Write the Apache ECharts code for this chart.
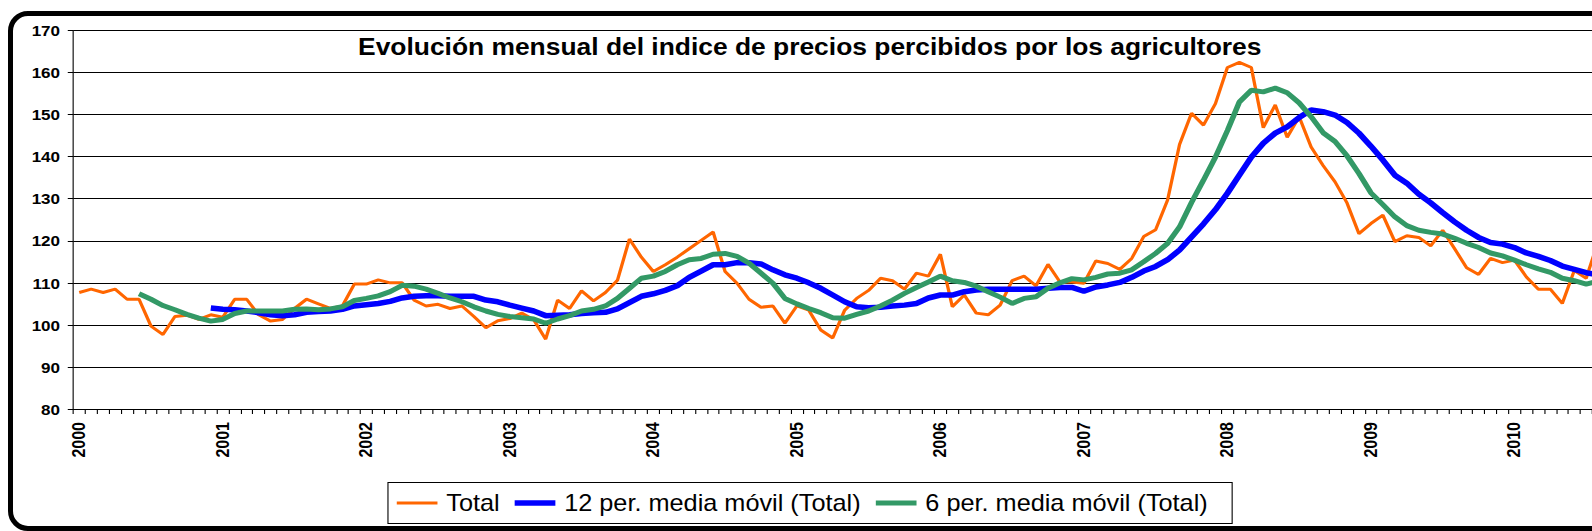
<!DOCTYPE html>
<html>
<head>
<meta charset="utf-8">
<script src="https://cdn.jsdelivr.net/npm/echarts@6/dist/echarts.min.js"></script>
<style>
  html, body { margin: 0; padding: 0; background: #fff; overflow: hidden; width: 1592px; height: 531px; }
  #frame {
    position: absolute; left: 8px; top: 11px; width: 1720px; height: 520px;
    border: 5px solid #000; border-radius: 20px; box-sizing: border-box;
  }
  /* the chart is drawn slightly condensed and stretched back horizontally */
  #chart {
    position: absolute; left: 0; top: 0; width: 1520px; height: 531px;
    transform: scaleX(1.1); transform-origin: 0 0;
  }
</style>
</head>
<body>
<div id="frame"></div>
<div id="chart"></div>
<script>
// Years shown on the category axis (one label every 12 months)
const years = ['2000', '2001', '2002', '2003', '2004', '2005', '2006', '2007', '2008', '2009', '2010'];

// Monthly index of prices received by farmers
const total = [
  107.7, 108.5, 107.7, 108.5, 106.1, 106.1, 99.7, 97.7, 102.0, 102.3, 101.3, 102.4,
  101.8, 106.1, 106.1, 102.4, 100.9, 101.3, 103.9, 106.1, 105.0, 103.9, 104.5, 109.7,
  109.7, 110.7, 110.0, 110.0, 105.9, 104.5, 104.9, 103.9, 104.5, 102.0, 99.3, 101.0,
  101.5, 102.8, 101.2, 96.6, 105.9, 103.9, 108.1, 105.7, 107.7, 110.6, 120.4, 116.1,
  112.7, 114.3, 116.1, 118.1, 120.1, 122.1, 112.7, 109.9, 106.1, 104.2, 104.5, 100.4,
  104.5, 103.5, 98.8, 96.9, 103.5, 106.3, 108.2, 111.1, 110.5, 108.5, 112.3, 111.6,
  116.8, 104.3, 107.1, 102.8, 102.4, 104.7, 110.5, 111.6, 109.3, 114.4, 110.2, 110.2,
  109.9, 115.2, 114.6, 113.2, 115.8, 121.0, 122.6, 129.7, 142.9, 150.3, 147.5, 152.6,
  161.2, 162.4, 161.2, 146.9, 152.3, 144.6, 149.5, 142.3, 137.9, 134.0, 129.0, 121.7,
  124.1, 126.1, 119.8, 121.2, 120.8, 118.8, 122.5, 118.1, 113.6, 112.0, 115.8, 114.8,
  115.4, 111.4, 108.5, 108.5, 105.1, 112.9, 111.1, 119.8
];

// 12-period moving average of the total
const media12 = [
  null, null, null, null, null, null, null, null, null, null, null, 104.0,
  103.7, 103.6, 103.3, 102.9, 102.4, 102.2, 102.4, 103.0, 103.2, 103.3, 103.7, 104.5,
  104.8, 105.1, 105.6, 106.4, 106.8, 106.9, 106.9, 106.8, 106.8, 106.8, 105.9, 105.5,
  104.7, 104.0, 103.3, 102.2, 102.3, 102.4, 102.7, 102.9, 103.0, 103.8, 105.3, 106.8,
  107.4, 108.2, 109.3, 111.3, 112.8, 114.3, 114.3, 114.8, 114.8, 114.5, 113.1, 111.9,
  111.1, 110.0, 108.7, 107.1, 105.5, 104.3, 104.1, 104.2, 104.5, 104.7, 105.1, 106.4,
  107.1, 107.1, 107.9, 108.3, 108.5, 108.5, 108.5, 108.5, 108.5, 108.7, 108.9, 108.9,
  108.0, 109.0, 109.5, 110.1, 111.3, 112.8, 113.9, 115.5, 117.8, 120.9, 124.0, 127.4,
  131.3, 135.6, 139.9, 143.2, 145.6, 147.1, 149.3, 151.1, 150.7, 149.9, 148.1, 145.6,
  142.5, 139.2, 135.6, 133.7, 131.1, 129.0, 126.7, 124.5, 122.5, 120.8, 119.6, 119.2,
  118.4, 117.1, 116.3, 115.3, 114.0, 113.2, 112.4, 111.9
];

// 6-period moving average of the total
const media6 = [
  null, null, null, null, null, 107.4, 106.1, 104.6, 103.6, 102.5, 101.6, 100.9,
  101.3, 102.7, 103.3, 103.3, 103.3, 103.3, 103.7, 103.8, 103.6, 103.8, 104.3, 105.8,
  106.3, 106.9, 107.9, 109.4, 109.2, 108.5, 107.5, 106.4, 105.5, 104.3, 103.3, 102.5,
  102.0, 101.7, 101.4, 100.4, 101.4, 102.2, 103.3, 103.7, 104.5, 106.3, 108.7, 111.1,
  111.6, 112.7, 114.3, 115.5, 115.8, 116.8, 117.0, 116.3, 114.7, 112.3, 109.9, 106.3,
  105.0, 103.9, 102.9, 101.7, 101.6, 102.5, 103.3, 104.5, 105.9, 107.5, 108.9, 110.2,
  111.6, 110.5, 110.1, 109.2, 107.9, 106.6, 105.1, 106.3, 106.7, 108.7, 110.0, 111.0,
  110.7, 111.3, 112.1, 112.3, 113.1, 115.0, 117.0, 119.4, 123.3, 129.1, 134.4, 139.9,
  146.2, 153.0, 155.8, 155.4, 156.3, 155.2, 152.8, 149.5, 145.7, 143.6, 140.2, 136.0,
  131.4, 128.6, 125.7, 123.6, 122.5, 122.0, 121.6, 120.6, 119.4, 118.4, 117.1, 116.4,
  115.4, 114.3, 113.3, 112.5, 111.1, 110.5, 109.7, 110.4
];

const yTicks = { min: 80, max: 170, step: 10 };

// one category per month
const months = [];
years.forEach(function (y) {
  for (let m = 1; m <= 12; m++) months.push(y + '-' + (m < 10 ? '0' + m : m));
});

const FONT = "'Liberation Sans', Arial, Helvetica, sans-serif";

const chart = echarts.init(document.getElementById('chart'), null, { renderer: 'svg' });
chart.setOption({
  animation: false,
  backgroundColor: 'transparent',
  title: {
    text: 'Evolución mensual del indice de precios percibidos por los agricultores',
    left: 325.5,
    top: 34,
    padding: 0,
    textStyle: { fontFamily: FONT, fontSize: 24, fontWeight: 'bold', color: '#000' }
  },
  legend: {
    left: 352.7,
    top: 482.5,
    padding: [7, 22, 7, 8],
    itemWidth: 37,
    itemHeight: 14,
    itemGap: 13.6,
    symbolKeepAspect: true,
    borderColor: '#000',
    borderWidth: 1,
    textStyle: { fontFamily: FONT, fontSize: 23, color: '#000', padding: [0, 0, 0, 3], lineHeight: 27 },
    // plain line keys, as thick as each series' line
    data: [
      { name: 'Total', icon: 'path://M0,0H37V3H0Z' },
      { name: '12 per. media móvil (Total)', icon: 'path://M0,0H37V5.5H0Z' },
      { name: '6 per. media móvil (Total)', icon: 'path://M0,0H37V5H0Z' }
    ]
  },
  grid: { left: 66.6, right: 18.2, top: 30.5, bottom: 122, containLabel: false },
  xAxis: {
    type: 'category',
    data: months,
    boundaryGap: true,
    axisLine: { lineStyle: { color: '#000', width: 1 } },
    axisTick: { show: true, interval: 0, length: 5, lineStyle: { color: '#000' } },
    axisLabel: {
      interval: 11,
      rotate: 90,
      margin: 13,
      fontFamily: FONT,
      fontSize: 16,
      fontWeight: 'bold',
      color: '#000',
      formatter: function (v) { return v.slice(0, 4); }
    },
    splitLine: { show: false }
  },
  yAxis: {
    type: 'value',
    min: yTicks.min,
    max: yTicks.max,
    interval: yTicks.step,
    axisLine: { show: true, lineStyle: { color: '#000', width: 1 } },
    axisTick: { show: true, length: 5, lineStyle: { color: '#000' } },
    axisLabel: { margin: 12, fontFamily: FONT, fontSize: 15.5, fontWeight: 'bold', color: '#000' },
    splitLine: { show: true, lineStyle: { color: '#000', width: 1 } }
  },
  series: [
    {
      name: 'Total',
      type: 'line',
      data: total,
      symbol: 'none',
      color: '#FF6600',
      lineStyle: { color: '#FF6600', width: 3 }
    },
    {
      name: '12 per. media móvil (Total)',
      type: 'line',
      data: media12,
      symbol: 'none',
      color: '#0000FF',
      lineStyle: { color: '#0000FF', width: 5.5 }
    },
    {
      name: '6 per. media móvil (Total)',
      type: 'line',
      data: media6,
      symbol: 'none',
      color: '#339966',
      lineStyle: { color: '#339966', width: 5 }
    }
  ]
});
</script>
</body>
</html>
